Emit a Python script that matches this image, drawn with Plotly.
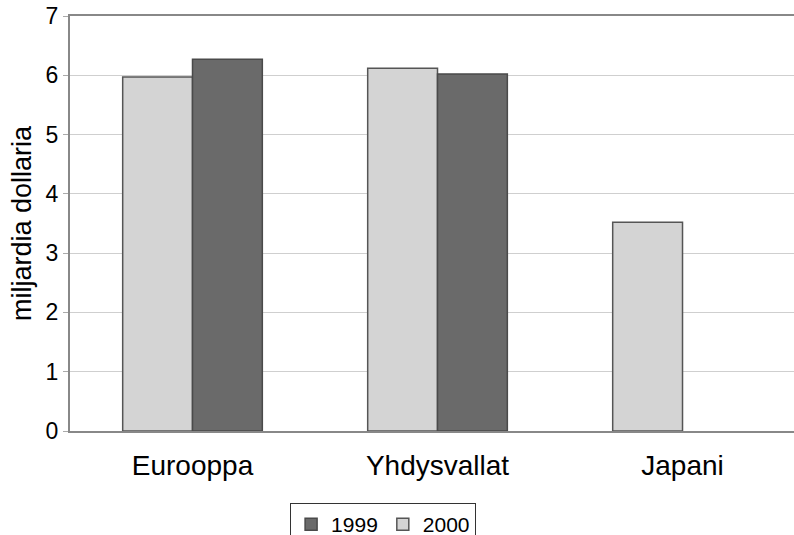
import plotly.graph_objects as go

categories = ["Eurooppa", "Yhdysvallat", "Japani"]
values_2000 = [5.97, 6.12, 3.52]
values_1999 = [6.27, 6.02, None]
y_ticks = [0, 1, 2, 3, 4, 5, 6, 7]

fig = go.Figure()
fig.add_trace(go.Bar(
    name="2000", x=categories, y=values_2000,
    marker=dict(color="#d4d4d4", line=dict(color="#555555", width=1.5)),
))
fig.add_trace(go.Bar(
    name="1999", x=categories, y=values_1999,
    marker=dict(color="#6a6a6a", line=dict(color="#4a4a4a", width=1.5)),
))

fig.update_layout(
    width=794, height=535,
    margin=dict(l=70, r=0, t=16, b=104, autoexpand=False),
    paper_bgcolor="white", plot_bgcolor="white",
    barmode="group", bargap=0.43, bargroupgap=0,
    font=dict(family="Liberation Sans, Arial, sans-serif", color="#111111"),
    showlegend=True,
    legend=dict(
        orientation="h", traceorder="reversed",
        x=0.304, xanchor="left", y=-0.1735, yanchor="top",
        bordercolor="#333333", borderwidth=1, bgcolor="white",
        font=dict(size=21, color="#000000"), itemwidth=30,
    ),
    xaxis=dict(
        range=[-0.5, 2.455], showline=True, linecolor="#888888", linewidth=2,
        mirror=True, ticks="", tickfont=dict(size=28, color="#000000"), showgrid=False,
        ticklabelstandoff=8, automargin=False,
    ),
    yaxis=dict(
        range=[0, 7], tickvals=y_ticks, showline=True, linecolor="#888888",
        linewidth=2, showgrid=True, gridcolor="#cfcfcf", gridwidth=1,
        ticks="outside", ticklen=5, tickcolor="#aaaaaa", ticklabeloverflow="allow",
        tickfont=dict(size=23, color="#000000"), zeroline=False, automargin=False,
        title=dict(text="miljardia dollaria", font=dict(size=27, color="#000000"), standoff=6),
    ),
)

fig.write_html(
    "out.html",
    config={"displayModeBar": False},
    post_script="document.body.style.margin='0';document.body.style.overflow='hidden';",
)
